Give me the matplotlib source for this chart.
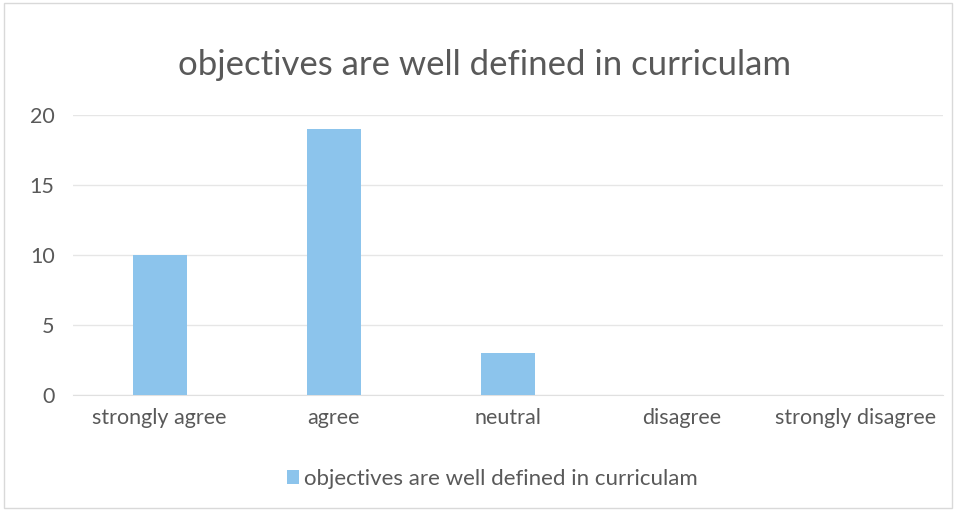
import matplotlib
matplotlib.use('Agg')
import matplotlib.pyplot as plt
from matplotlib.patches import Rectangle

categories = ['strongly agree', 'agree', 'neutral', 'disagree', 'strongly disagree']
values = [10, 19, 3, 0, 0]
series_name = 'objectives are well defined in curriculam'
title = 'objectives are well defined in curriculam'
yticks = [0, 5, 10, 15, 20]

bar_color = '#8cc4ec'
text_color = '#595959'

plt.rcParams['font.family'] = ['Lato', 'DejaVu Sans']

fig = plt.figure(figsize=(9.56, 5.11), dpi=100)
ax = fig.add_axes([0.076, 0.227, 0.91, 0.548])

x = list(range(len(categories)))
ax.bar(x, values, width=0.31, color=bar_color, label=series_name, zorder=3)

ax.set_xlim(-0.5, len(categories) - 0.5)
ax.set_ylim(0, 20)
ax.set_yticks(yticks)
ax.set_xticks(x)
ax.set_xticklabels(categories)
ax.tick_params(axis='both', length=0, colors=text_color, labelsize=15.5)
ax.tick_params(axis='x', pad=9)
ax.tick_params(axis='y', pad=13)
ax.grid(axis='y', color='#e6e6e6', linewidth=1, zorder=0)
for s in ['top', 'right', 'left']:
    ax.spines[s].set_visible(False)
ax.spines['bottom'].set_color('#e0e0e0')

fig.text(0.507, 0.872, title, ha='center', va='center', fontsize=25, color=text_color)

fig.legend(loc='center', bbox_to_anchor=(0.515, 0.063), frameon=False,
           fontsize=16, labelcolor=text_color, handlelength=0.55,
           handleheight=0.55, handletextpad=0.25)

fig.patches.append(Rectangle((0.004, 0.006), 0.992, 0.988, transform=fig.transFigure,
                             fill=False, edgecolor='#d9d9d9', linewidth=1))

fig.savefig('out.png', dpi=100)
